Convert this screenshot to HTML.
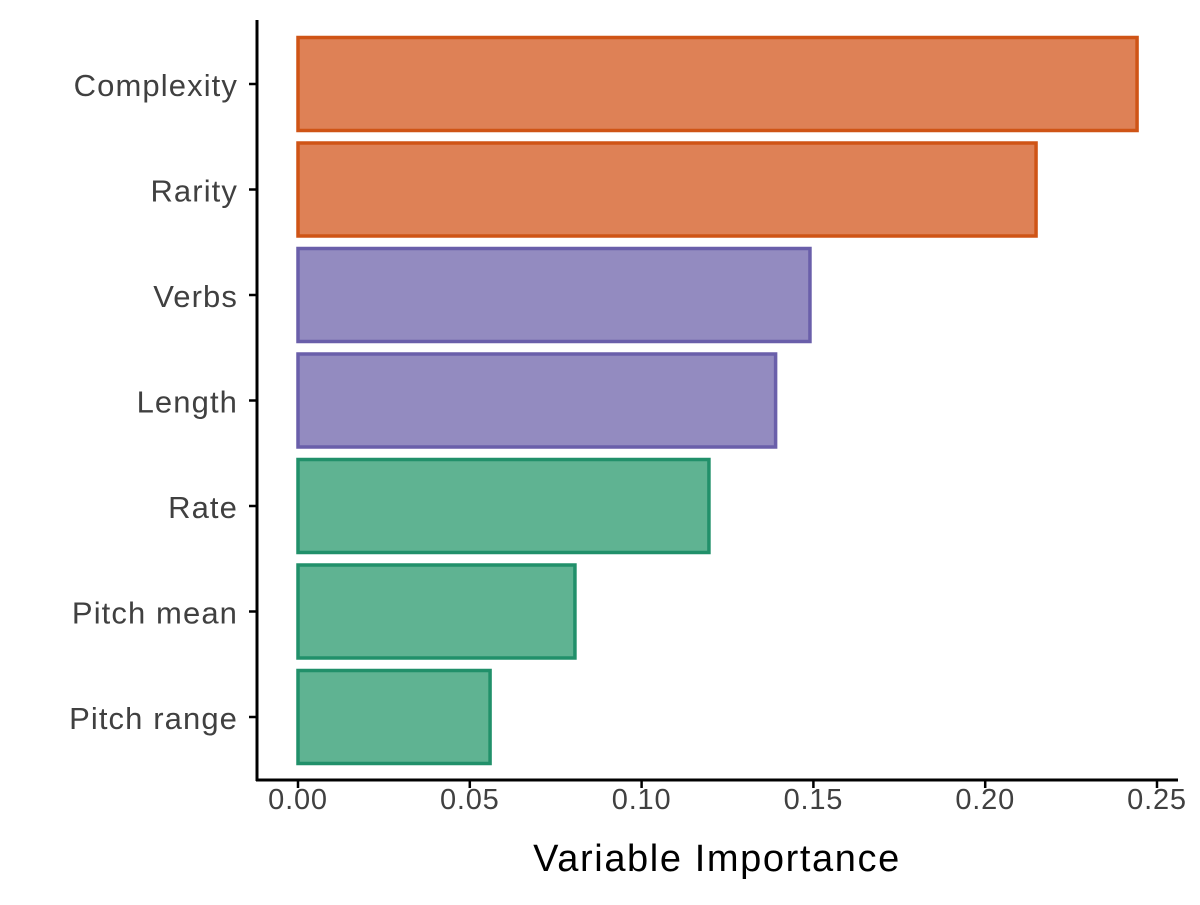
<!DOCTYPE html>
<html><head><meta charset="utf-8"><style>
body{margin:0;background:#fff;}
svg text{font-family:"Liberation Sans",Arial,sans-serif;}
</style></head><body>
<svg id="chart" width="1200" height="900" xmlns="http://www.w3.org/2000/svg">
<g id="bars"></g>
<g id="axes"></g>
</svg>
<script>
const categories=["Complexity","Rarity","Verbs","Length","Rate","Pitch mean","Pitch range"];
const values=[0.2442,0.2148,0.149,0.139,0.1196,0.0806,0.0559];
const groups=["ling","ling","syn","syn","ac","ac","ac"];
const xTicks=[0,0.05,0.10,0.15,0.20,0.25];
const xTickLabels=["0.00","0.05","0.10","0.15","0.20","0.25"];
const fills={ling:"#DE8156",syn:"#938BC0",ac:"#5FB392"};
const strokes={ling:"#CF5416",syn:"#6A5FAA",ac:"#21906A"};
const NS="http://www.w3.org/2000/svg";
const x=v=>298+v*3436;
const band=105.5, y0=84;
const y=i=>y0+i*band;
const bars=document.getElementById('bars'), axes=document.getElementById('axes');
function mk(tag,attrs,parent){const e=document.createElementNS(NS,tag);for(const k in attrs)e.setAttribute(k,attrs[k]);parent.appendChild(e);return e;}
categories.forEach((c,i)=>{
  const r=mk('rect',{x:x(0),y:y(i)-46.5,width:x(values[i])-x(0),height:93,fill:fills[groups[i]],stroke:strokes[groups[i]],'stroke-width':3.5},bars);
  
  
  const t=mk('line',{x1:249,x2:257,y1:y(i),y2:y(i),stroke:'#000','stroke-width':2.5},axes);
  
  
  const l=mk('text',{x:238,y:y(i)+12,'text-anchor':'end','font-size':31,'letter-spacing':1.1,fill:'#404040'},axes);
  l.textContent=c;
  
  
});
xTicks.forEach((v,i)=>{
  const t=mk('line',{x1:x(v),x2:x(v),y1:780,y2:788,stroke:'#000','stroke-width':2.5},axes);
  
  
  const l=mk('text',{x:x(v),y:809,'text-anchor':'middle','font-size':29,'letter-spacing':0.8,fill:'#404040'},axes);
  l.textContent=xTickLabels[i];
  
  
});
const ya=mk('line',{x1:257,x2:257,y1:20,y2:781,stroke:'#000','stroke-width':3},axes);


const xa=mk('line',{x1:256,x2:1178,y1:780,y2:780,stroke:'#000','stroke-width':3},axes);


const tt=mk('text',{x:717,y:871,'text-anchor':'middle','font-size':38,'letter-spacing':1.6,fill:'#000'},axes);
tt.textContent='Variable Importance';


</script>
</body></html>
